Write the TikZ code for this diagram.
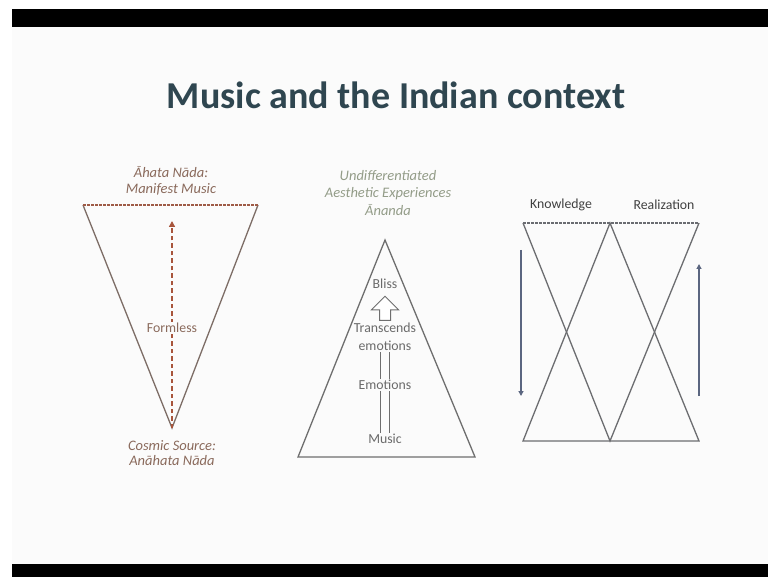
\documentclass[tikz,border=0pt]{standalone}
\usepackage{fontspec}
\setmainfont{Carlito}
\usetikzlibrary{positioning,arrows.meta,shapes.arrows}

\definecolor{titleslate}{HTML}{2F4650}
\definecolor{earth}{HTML}{8A6A5C}
\definecolor{earthline}{HTML}{7D6D66}
\definecolor{rust}{HTML}{A8553C}
\definecolor{sage}{HTML}{939C88}
\definecolor{greyline}{HTML}{6E6E6E}
\definecolor{greytext}{HTML}{6A6A6A}
\definecolor{steel}{HTML}{5B6680}
\definecolor{slide}{HTML}{FBFBFB}

\tikzset{
  toplbl/.style={font=\fontsize{14.5}{15.5}\selectfont\itshape, align=center, inner sep=1pt},
  inlbl/.style={font=\fontsize{13.8}{18.5}\selectfont, text=greytext, align=center, inner sep=1pt},
  edge/.style={line width=1.3pt},
  rim/.style={line width=1.2pt, dash pattern=on 2.5pt off 1.5pt},
  flow/.style={line width=1.3pt, steel, -{Triangle[length=5pt,width=5pt]}}
}

\begin{document}
\begin{tikzpicture}[x=1pt, y=-1pt]
    \useasboundingbox (0,0) rectangle (768,577);
    % Frame
    \fill[white] (0,0) rectangle (768,577);
    \fill[slide] (12,27) rectangle (768,564);
    \fill[black] (12,9) rectangle (768,27);
    \fill[black] (12,564) rectangle (768,577);

    % Title
    \node[font=\fontsize{38}{40}\selectfont\bfseries, text=titleslate] (title) at (396,95) {Music and the Indian context};

    % Left: inverted triangle
    \coordinate (lt-l) at (83,205);
    \coordinate (lt-r) at (258,205);
    \coordinate (lt-a) at (172,428);
    \coordinate (lt-tip) at (172,221);
    \draw[edge, earthline] (lt-l) -- (lt-a) -- (lt-r);
    \draw[rim, rust!70!earth] (lt-l) -- (lt-r);
    \draw[line width=1.4pt, rust, dash pattern=on 4.5pt off 3pt, -{Triangle[length=6pt,width=6pt]}] (lt-a) -- (lt-tip);
    \node[inlbl, text=earth, fill=slide] (formless) at (172,328) {Formless};
    \node[toplbl, text=earth] (ahata) at (171,181) {Āhata Nāda:\\Manifest Music};
    \node[toplbl, text=earth] (anahata) at (172,453) {Cosmic Source:\\Anāhata Nāda};

    % Middle: triangle
    \coordinate (mt-a) at (385,240);
    \coordinate (mt-l) at (298,457);
    \coordinate (mt-r) at (475,457);
    \draw[edge, greyline] (mt-a) -- (mt-r) -- (mt-l) -- cycle;
    \node[toplbl, text=sage, font=\fontsize{14.5}{17.5}\selectfont\itshape] (ananda) at (388,193) {Undifferentiated\\Aesthetic Experiences\\Ānanda};
    \node[inlbl] (bliss) at (385,284) {Bliss};
    \node[inlbl] (trans) at (385,337) {Transcends\\emotions};
    \node[inlbl] (emot) at (385,385) {Emotions};
    \node[inlbl] (music) at (385,439) {Music};
    \node[single arrow, draw=greyline, fill=white, line width=1pt, shape border rotate=90,
          inner sep=5pt, single arrow head extend=8pt, minimum height=24pt] (rise) at (385,311) {};
    \draw[greyline, line width=1pt, double=slide, double distance=8pt] (trans.south) -- (emot.north);
    \draw[greyline, line width=1pt, double=slide, double distance=8pt] (emot.south) -- (music.north);

    % Right: crossed triangles
    \coordinate (rt-tl) at (523,223);
    \coordinate (rt-tm) at (610,223);
    \coordinate (rt-tr) at (699,223);
    \coordinate (rt-bl) at (523,441);
    \coordinate (rt-bm) at (610,441);
    \coordinate (rt-br) at (699,441);
    \draw[edge, greyline!90!steel] (rt-tl) -- (rt-bm) -- (rt-tr);
    \draw[edge, greyline!90!steel] (rt-bl) -- (rt-tm) -- (rt-br) -- cycle;
    \draw[rim, greyline!80!steel] (rt-tl) -- (rt-tr);
    \node[inlbl, text=black!75] (know) at (561,205) {Knowledge};
    \node[inlbl, text=black!75] (real) at (664,205) {Realization};
    \coordinate (kn-s) at (521,250);
    \coordinate (kn-e) at (521,396);
    \coordinate (re-s) at (699,396);
    \coordinate (re-e) at (699,264);
    \draw[flow] (kn-s) -- (kn-e);
    \draw[flow] (re-s) -- (re-e);
\end{tikzpicture}
\end{document}
